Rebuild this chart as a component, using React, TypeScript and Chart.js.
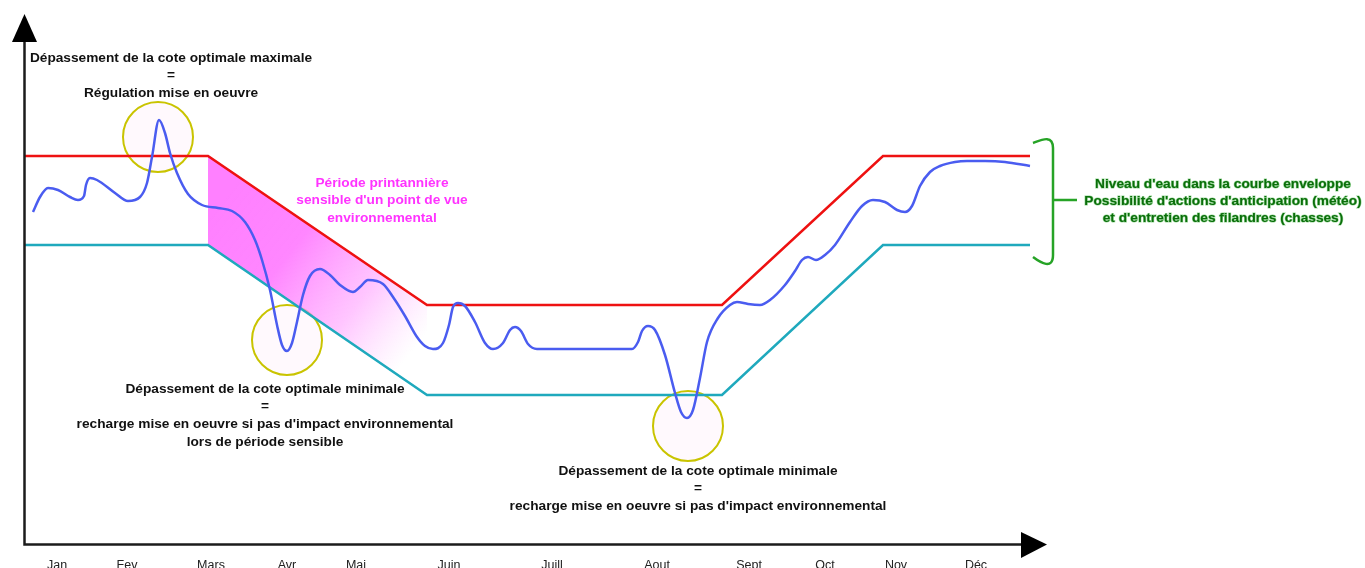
import React, { useEffect, useRef } from "react";
import { Chart, registerables } from "chart.js";

Chart.register(...registerables);

// ---- Data (x in day-ish units along the year axis, level = water height) ----
const monthLabels = ["Jan", "Fev", "Mars", "Avr", "Mai", "Juin", "Juill", "Aout", "Sept", "Oct", "Nov", "Déc"];
const monthX = [57, 127, 211, 287, 356, 449, 552, 657, 749, 825, 896, 976];

const boundX = [25, 208, 427, 722, 883, 1030];
const upperLevel = [387, 387, 238, 238, 387, 387];
const lowerLevel = [298, 298, 148, 148, 298, 298];

const springX = [208, 427];
const springUpper = [387, 238];
const springLower = [298, 148];

const levelX = [
  33, 40, 48, 58, 70, 78, 84, 86, 90, 97, 115, 128, 140, 147, 152, 159, 165, 170, 177, 188,
  202, 218, 232, 245, 255, 262, 270, 277, 282, 287, 292, 297, 303, 310, 320, 330, 340, 353, 360, 368,
  383, 395, 405, 417, 425, 433, 443, 449, 453, 458, 465, 475, 485, 493, 503, 510, 515, 521, 528, 537,
  580, 632, 638, 642, 648, 655, 665, 675, 681, 687, 693, 700, 707, 718, 730, 737, 748, 760, 770, 785,
  795, 802, 808, 816, 825, 835, 850, 862, 873, 885, 897, 905, 912, 920, 930, 940, 955, 967, 985, 1005, 1030,
];
const levelY = [
  331, 346, 355, 353, 346, 343, 347, 358, 365, 363, 350, 342, 346, 360, 386, 423, 410, 390, 370, 349,
  338, 335, 332, 321, 303, 283, 253, 218, 198, 192, 200, 221, 248, 267, 274, 268, 258, 251, 256, 263,
  259, 243, 227, 206, 197, 194, 200, 218, 236, 240, 237, 221, 200, 194, 200, 213, 216, 212, 199, 194,
  194, 194, 201, 212, 217, 213, 188, 150, 131, 125, 133, 165, 201, 225, 238, 241, 239, 238, 243, 258,
  272, 283, 286, 283, 288, 298, 321, 337, 343, 341, 333, 331, 337, 357, 371, 377, 381, 382, 382, 381, 377,
];

// Circles marking excursions (center x, center level)
const circleX = [158, 287, 688];
const circleLevel = [406, 203, 117];

// Annotation text blocks
const noteMaxLines = ["Dépassement de la cote optimale maximale", "=", "Régulation mise en oeuvre"];
const noteMin1Lines = [
  "Dépassement de la cote optimale minimale",
  "=",
  "recharge mise en oeuvre si pas d'impact environnemental",
  "lors de période sensible",
];
const noteMin2Lines = [
  "Dépassement de la cote optimale minimale",
  "=",
  "recharge mise en oeuvre si pas d'impact environnemental",
];
const springLines = ["Période printannière", "sensible d'un point de vue", "environnemental"];
const envelopeLines = [
  "Niveau d'eau dans la courbe enveloppe",
  "Possibilité d'actions d'anticipation (météo)",
  "et d'entretien des filandres (chasses)",
];

const W = 1365;
const H = 568;
const FONT = "'Liberation Sans', Arial, sans-serif";

const toPts = (xs: number[], ys: number[]) => xs.map((x, i) => ({ x, y: ys[i] }));

const decorPlugin = {
  id: "decor",
  beforeDatasetsDraw(chart: any) {
    const ctx = chart.ctx;
    const xs = chart.scales.x;
    const ys = chart.scales.y;
    ctx.save();
    circleX.forEach((cx, i) => {
      ctx.beginPath();
      ctx.arc(xs.getPixelForValue(cx), ys.getPixelForValue(circleLevel[i]), 35, 0, Math.PI * 2);
      ctx.fillStyle = "rgba(255,235,248,0.3)";
      ctx.fill();
      ctx.lineWidth = 2;
      ctx.strokeStyle = "#c9c400";
      ctx.stroke();
    });
    ctx.restore();
  },
  afterDraw(chart: any) {
    const ctx = chart.ctx;
    const xs = chart.scales.x;
    const ys = chart.scales.y;
    const px = (v: number) => xs.getPixelForValue(v);
    const py = (v: number) => ys.getPixelForValue(v);
    ctx.save();

    // axes
    ctx.strokeStyle = "#1c1c1c";
    ctx.fillStyle = "#000";
    ctx.lineWidth = 2.5;
    ctx.beginPath();
    ctx.moveTo(px(24.5), py(505));
    ctx.lineTo(px(24.5), py(-1.5));
    ctx.lineTo(px(1022), py(-1.5));
    ctx.stroke();
    ctx.beginPath();
    ctx.moveTo(px(24.5), py(529));
    ctx.lineTo(px(12), py(501));
    ctx.lineTo(px(37), py(501));
    ctx.closePath();
    ctx.fill();
    ctx.beginPath();
    ctx.moveTo(px(1047), py(-1.5));
    ctx.lineTo(px(1021), py(11));
    ctx.lineTo(px(1021), py(-15));
    ctx.closePath();
    ctx.fill();

    // month labels
    ctx.font = `12.5px ${FONT}`;
    ctx.fillStyle = "#222";
    ctx.textAlign = "center";
    ctx.textBaseline = "middle";
    monthLabels.forEach((m, i) => ctx.fillText(m, px(monthX[i]), py(-22.5)));

    // black notes
    const drawLines = (lines: string[], x: number, topLevel: number, gap: number) => {
      lines.forEach((t, i) => ctx.fillText(t, px(x), py(topLevel) + i * gap));
    };
    ctx.font = `bold 13.7px ${FONT}`;
    ctx.fillStyle = "#111";
    drawLines(noteMaxLines, 171, 485, 17.5);
    drawLines(noteMin1Lines, 265, 154, 17.7);
    drawLines(noteMin2Lines, 698, 72, 17.5);

    // pink note
    ctx.fillStyle = "#ff33ff";
    drawLines(springLines, 382, 360, 17.5);

    // green note with outline
    ctx.font = `bold 13.7px ${FONT}`;
    envelopeLines.forEach((t, i) => {
      const x = px(1223);
      const y = py(359) + i * 17;
      ctx.lineWidth = 1.2;
      ctx.strokeStyle = "rgba(90,190,90,0.6)";
      ctx.strokeText(t, x, y);
      ctx.fillStyle = "#0a6e0a";
      ctx.fillText(t, x, y);
    });

    // green brace
    ctx.strokeStyle = "#26a326";
    ctx.lineWidth = 2.5;
    ctx.beginPath();
    ctx.moveTo(px(1033), py(400));
    ctx.bezierCurveTo(px(1041), py(403), px(1053), py(409), px(1053), py(395));
    ctx.lineTo(px(1053), py(288));
    ctx.bezierCurveTo(px(1053), py(273), px(1041), py(280), px(1033), py(286));
    ctx.moveTo(px(1053), py(343));
    ctx.lineTo(px(1077), py(343));
    ctx.stroke();

    ctx.restore();
  },
};

export default function App() {
  const ref = useRef<HTMLCanvasElement | null>(null);

  useEffect(() => {
    if (!ref.current) return;
    const chart = new Chart(ref.current, {
      type: "line",
      data: {
        datasets: [
          {
            label: "Zone sensible haute",
            data: toPts(springX, springUpper),
            borderWidth: 0,
            pointRadius: 0,
            fill: "+1",
            backgroundColor: (c: any) => {
              const ch = c.chart;
              if (!ch.chartArea) return "rgba(255,128,255,0.9)";
              const xs = ch.scales.x;
              const ys = ch.scales.y;
              const g = ch.ctx.createLinearGradient(
                xs.getPixelForValue(225), ys.getPixelForValue(345),
                xs.getPixelForValue(415), ys.getPixelForValue(195)
              );
              g.addColorStop(0, "rgba(255,128,255,1)");
              g.addColorStop(0.35, "rgba(255,128,255,0.95)");
              g.addColorStop(0.7, "rgba(255,150,255,0.55)");
              g.addColorStop(1, "rgba(255,180,255,0)");
              return g;
            },
            order: 5,
          },
          {
            label: "Zone sensible basse",
            data: toPts(springX, springLower),
            borderWidth: 0,
            pointRadius: 0,
            fill: false,
            order: 5,
          },
          {
            label: "Cote optimale maximale",
            data: toPts(boundX, upperLevel),
            borderColor: "#ee1111",
            borderWidth: 2.5,
            pointRadius: 0,
            tension: 0,
            fill: false,
            order: 2,
          },
          {
            label: "Cote optimale minimale",
            data: toPts(boundX, lowerLevel),
            borderColor: "#1fa9bd",
            borderWidth: 2.5,
            pointRadius: 0,
            tension: 0,
            fill: false,
            order: 2,
          },
          {
            label: "Niveau d'eau",
            data: toPts(levelX, levelY),
            borderColor: "#4a5cf0",
            borderWidth: 2.5,
            pointRadius: 0,
            cubicInterpolationMode: "monotone",
            fill: false,
            order: 1,
          },
        ],
      },
      options: {
        animation: false,
        responsive: false,
        layout: { padding: 0 },
        plugins: { legend: { display: false }, tooltip: { enabled: false } },
        scales: {
          x: { type: "linear", min: 0, max: W, display: false },
          y: { type: "linear", min: 543 - H, max: 543, display: false },
        },
      },
      plugins: [decorPlugin],
    } as any);
    return () => chart.destroy();
  }, []);

  return (
    <div style={{ position: "fixed", left: 0, top: 0, width: W, height: H, background: "#fff" }}>
      <canvas ref={ref} width={W} height={H} style={{ display: "block" }} />
    </div>
  );
}
